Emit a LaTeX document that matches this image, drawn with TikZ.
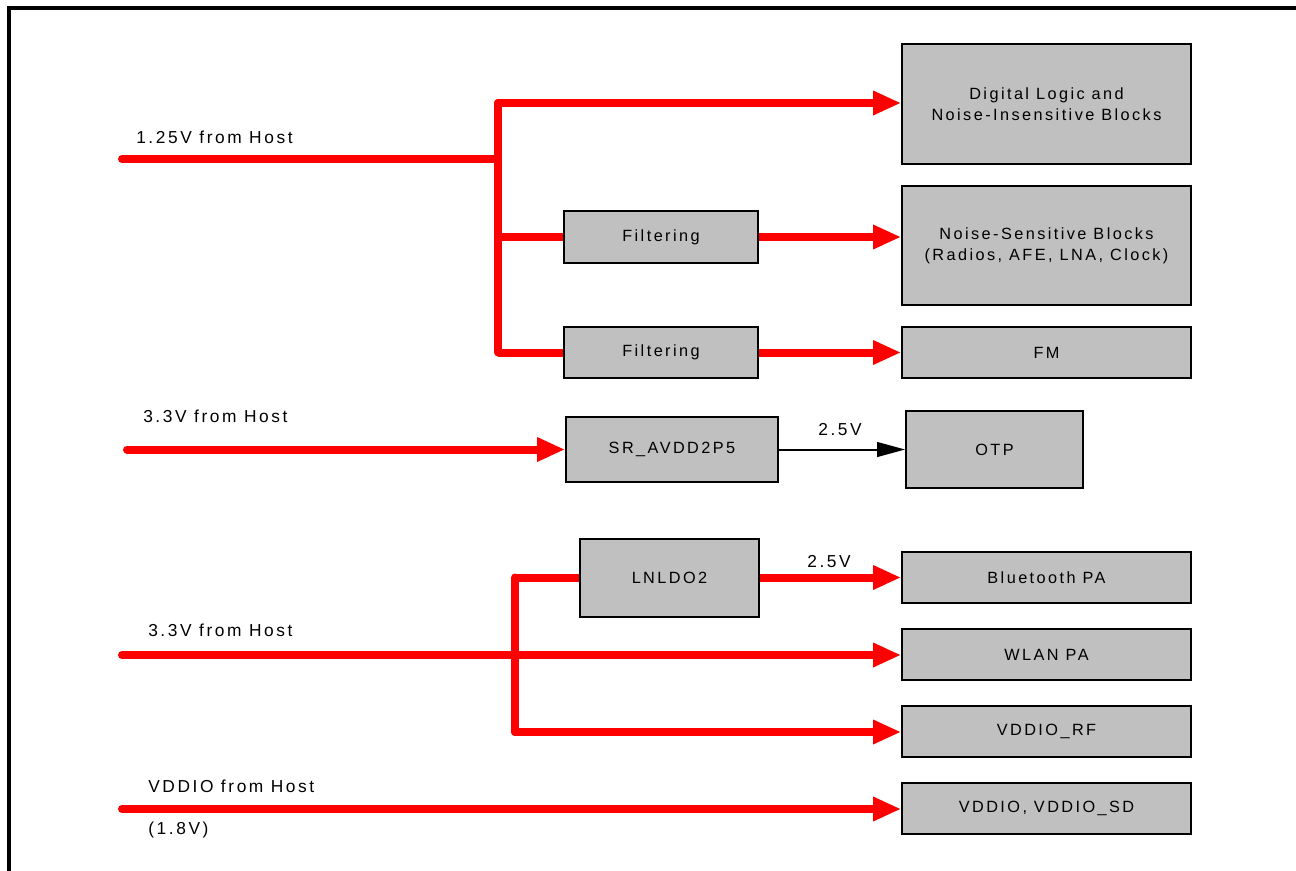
\documentclass[tikz,border=0pt]{standalone}
\usepackage{fontspec}
\setmainfont{Liberation Sans}[LetterSpace=15]
\usetikzlibrary{arrows.meta}
\newcommand\pxu{0.75pt}
\tikzset{
  box/.style={draw=black, line width=1.3pt, fill=boxgray, inner sep=0pt, align=center, font=\fontsize{12.2}{15.75}\selectfont},
  rl/.style={draw=red, line width=6pt, line cap=round, line join=round},
  rarrow/.style={rl, -{Triangle[length=21pt,width=17pt]}},
  barrow/.style={draw=black, line width=1.5pt, -{Triangle[length=21pt,width=11pt]}},
  lbl/.style={font=\fontsize{13}{15}\selectfont, inner sep=0pt},
}
\definecolor{boxgray}{HTML}{C0C0C0}
\begin{document}
\begin{tikzpicture}[x=0.75pt,y=-0.75pt]
\useasboundingbox (0,0) rectangle (1296,871);
\draw[line width=2.4pt] (9,871) -- (9,8) -- (1296,8);

% right column boxes
\node[box, minimum width=289*\pxu, minimum height=120*\pxu] (dl) at (1046.5,104) {Digital Logic and\\Noise-Insensitive Blocks};
\node[box, minimum width=289*\pxu, minimum height=119*\pxu] (ns) at (1046.5,245.5) {Noise-Sensitive Blocks\\(Radios, AFE, LNA, Clock)};
\node[box, minimum width=289*\pxu, minimum height=51*\pxu] (fm) at (1046.5,352.5) {FM};
\node[box, minimum width=177*\pxu, minimum height=77*\pxu] (otp) at (994.5,449.5) {OTP};
\node[box, minimum width=289*\pxu, minimum height=51*\pxu] (bt) at (1046.5,577.5) {Bluetooth PA};
\node[box, minimum width=289*\pxu, minimum height=51*\pxu] (wl) at (1046.5,654.5) {WLAN PA};
\node[box, minimum width=289*\pxu, minimum height=51*\pxu] (rf) at (1046.5,731.5) {VDDIO\_RF};
\node[box, minimum width=289*\pxu, minimum height=51*\pxu] (vd) at (1046.5,808.5) {VDDIO, VDDIO\_SD};

% middle boxes
\node[box, minimum width=194*\pxu, minimum height=52*\pxu] (f1) at (661,237) {Filtering};
\node[box, minimum width=194*\pxu, minimum height=51*\pxu] (f2) at (661,352.5) {Filtering};
\node[box, minimum width=212*\pxu, minimum height=65*\pxu] (sr) at (672,449.5) {SR\_AVDD2P5};
\node[box, minimum width=179*\pxu, minimum height=78*\pxu] (ln) at (669.5,578) {LNLDO2};

% labels
\node[lbl, anchor=base west] (l1) at (136,143) {1.25V from Host};
\node[lbl, anchor=base west] (l2) at (143,422) {3.3V from Host};
\node[lbl, anchor=base west] (l3) at (148,636) {3.3V from Host};
\node[lbl, anchor=base west] (l4) at (148,792) {VDDIO from Host};
\node[lbl, anchor=base west] (l5) at (148,834) {(1.8V)};
\node[lbl, anchor=base] (v1) at (840,435) {2.5V};
\node[lbl, anchor=base] (v2) at (829,567) {2.5V};

% coordinates
\coordinate (in1) at (122,159);
\coordinate (j1) at (498,159);
\coordinate (j1t) at (498,103);
\coordinate (j1b) at (498,352.5);
\coordinate (j1m) at (498,237);
\coordinate (in2) at (127,449.5);
\coordinate (in3) at (122,655);
\coordinate (j3t) at (515,577.5);
\coordinate (j3b) at (515,732);
\coordinate (in4) at (122,809);

% 1.25V tree
\draw[rl] (in1) -- (j1);
\draw[rl] (j1t) -- (j1b);
\draw[rarrow] (j1t) -- (j1t -| dl.west);
\draw[rl, line cap=butt] (j1m) -- (f1.west);
\draw[rarrow, line cap=butt] (f1.east) -- (f1.east -| ns.west);
\draw[rl, line cap=butt] (j1b) -- (f2.west);
\draw[rarrow, line cap=butt] (f2.east) -- (fm.west);

% 3.3V to SR
\draw[rarrow] (in2) -- (sr.west);
\draw[barrow] (sr.east) -- (otp.west);

% 3.3V second
\draw[rarrow] (in3) -- (in3 -| wl.west);
\draw[rl] (j3t) -- (j3b);
\draw[rl, line cap=butt] (j3t) -- (j3t -| ln.west);
\draw[rarrow, line cap=butt] (j3t -| ln.east) -- (j3t -| bt.west);
\draw[rarrow] (j3b) -- (j3b -| rf.west);

% VDDIO
\draw[rarrow] (in4) -- (in4 -| vd.west);
\end{tikzpicture}
\end{document}
